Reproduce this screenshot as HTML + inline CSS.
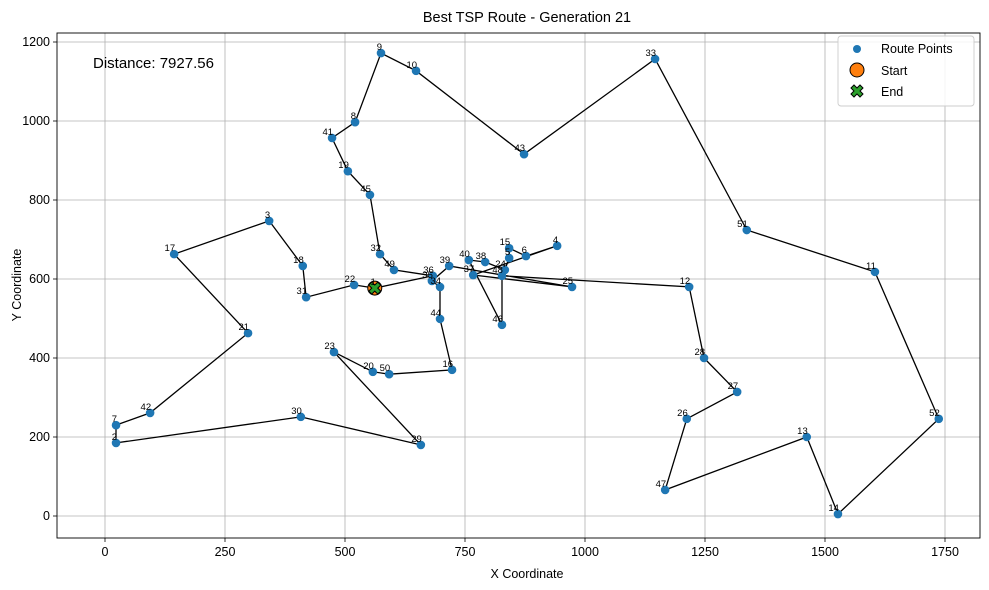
<!DOCTYPE html>
<html><head><meta charset="utf-8">
<style>
html,body{margin:0;padding:0;background:#fff;}
svg{display:block;font-family:"Liberation Sans","DejaVu Sans",sans-serif;}
</style></head>
<body>
<svg id="chart" width="989" height="590" viewBox="0 0 989 590" xmlns="http://www.w3.org/2000/svg">
<rect width="989" height="590" fill="#fff"/>
<text x="527" y="22" text-anchor="middle" font-size="14.5" fill="#000">Best TSP Route - Generation 21</text>
<g id="grid"></g>
<g id="route"></g>
<g id="points"></g>
<g id="labels"></g>
<g id="ticks"></g>
<rect x="57" y="33" width="923" height="505" fill="none" stroke="#000" stroke-width="0.9"/>
<text x="93" y="68" font-size="15" fill="#000">Distance: 7927.56</text>
<text x="527" y="578" text-anchor="middle" font-size="12.5" fill="#000">X Coordinate</text>
<text x="21" y="285" text-anchor="middle" font-size="12.5" fill="#000" transform="rotate(-90 21 285)">Y Coordinate</text>
<g>
<rect x="838" y="36" width="136" height="70" rx="3" fill="#fff" fill-opacity="0.85" stroke="#ccc" stroke-width="0.9"/>
<g><circle cx="857" cy="49" r="4" fill="#1f77b4"/><text x="881" y="53" font-size="12.5">Route Points</text></g>
<g><circle cx="857" cy="70" r="7" fill="#ff7f0e" stroke="#000" stroke-width="1"/><text x="881" y="75" font-size="12.5">Start</text></g>
<g><path d="M-6,-3 L-3,-6 L0,-3 L3,-6 L6,-3 L3,0 L6,3 L3,6 L0,3 L-3,6 L-6,3 L-3,0 Z" transform="translate(857,91)" fill="#2ca02c" stroke="#000" stroke-width="1"/><text x="881" y="96" font-size="12.5">End</text></g>
</g>
</svg>
<script>
const cityIds = [1,22,31,18,3,17,21,42,7,2,30,29,23,20,50,16,44,34,35,39,25,37,4,6,15,5,24,38,40,46,48,12,28,27,26,47,13,14,52,11,51,33,43,10,9,8,41,19,45,32,49,36];
const cityX = [562,519,419,412,342,144,298,94,23,23,408,658,477,558,592,723,698,698,681,717,973,767,942,877,842,842,833,792,758,827,827,1217,1248,1317,1212,1167,1462,1527,1737,1604,1337,1146,873,648,575,521,473,506,552,573,602,683];
const cityY = [577,585,554,633,747,663,463,261,230,185,251,180,415,365,359,370,499,580,595,633,580,610,684,658,678,653,623,643,648,484,608,580,400,314,246,66,200,5,246,618,724,1157,916,1127,1172,997,957,873,813,663,623,608];
const xTicks = [0,250,500,750,1000,1250,1500,1750];
const yTicks = [0,200,400,600,800,1000,1200];

const NS = "http://www.w3.org/2000/svg";
function sx(v){ return 105 + v*0.48; }
function sy(v){ return 516 - v*0.395; }
function mk(tag, attrs, parent){ const e=document.createElementNS(NS,tag); for(const k in attrs) e.setAttribute(k,attrs[k]); parent.appendChild(e); return e; }

const grid=document.getElementById('grid'), ticks=document.getElementById('ticks');
xTicks.forEach(t=>{
  const x=sx(t);
  const g=mk('line',{x1:x,x2:x,y1:33,y2:538,stroke:'#b0b0b0','stroke-width':0.8},grid);
  
  
  mk('line',{x1:x,x2:x,y1:538,y2:542,stroke:'#000','stroke-width':0.8},ticks);
  const tx=mk('text',{x:x,y:556,'text-anchor':'middle','font-size':12.5,fill:'#000'},ticks);
  tx.textContent=t;
  
  
});
yTicks.forEach(t=>{
  const y=sy(t);
  const g=mk('line',{x1:57,x2:980,y1:y,y2:y,stroke:'#b0b0b0','stroke-width':0.8},grid);
  
  
  mk('line',{x1:53,x2:57,y1:y,y2:y,stroke:'#000','stroke-width':0.8},ticks);
  const tx=mk('text',{x:50,y:y+4,'text-anchor':'end','font-size':12.5,fill:'#000'},ticks);
  tx.textContent=t;
  
  
});

const route=document.getElementById('route');
let d='';
for(let i=0;i<cityX.length;i++){ d+=(i?'L':'M')+sx(cityX[i]).toFixed(1)+','+sy(cityY[i]).toFixed(1); }
d+='Z';
const p=mk('path',{d:d,fill:'none',stroke:'#000','stroke-width':1.3},route);



const pts=document.getElementById('points'), lbl=document.getElementById('labels');
for(let i=0;i<cityX.length;i++){
  const c=mk('circle',{cx:sx(cityX[i]),cy:sy(cityY[i]),r:4.3,fill:'#1f77b4'},pts);
  
  
  const t=mk('text',{x:sx(cityX[i])+1,y:sy(cityY[i])-3,'text-anchor':'end','font-size':9.5,fill:'#000'},lbl);
  t.textContent=cityIds[i];
  
  
}
const sxp=sx(cityX[0]), syp=sy(cityY[0]);
const s=mk('circle',{cx:sxp,cy:syp,r:7,fill:'#ff7f0e',stroke:'#000','stroke-width':1},pts);


const e=mk('path',{d:'M-6,-3 L-3,-6 L0,-3 L3,-6 L6,-3 L3,0 L6,3 L3,6 L0,3 L-3,6 L-6,3 L-3,0 Z',transform:'translate('+sxp+','+syp+')',fill:'#2ca02c',stroke:'#000','stroke-width':1},pts);


</script>
</body></html>
